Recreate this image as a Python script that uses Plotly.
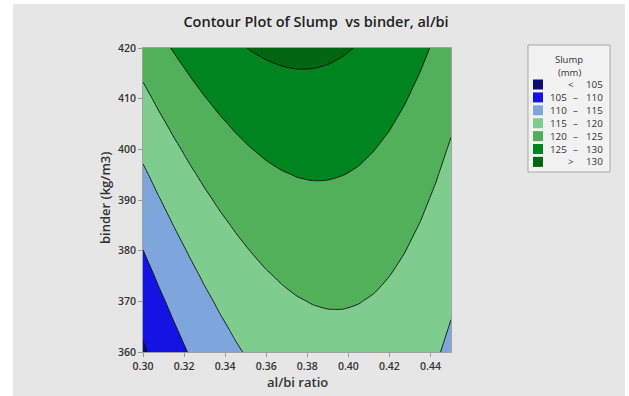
import plotly.graph_objects as go

# ---- data ----
al_bi = [0.3000, 0.3075, 0.3150, 0.3225, 0.3300, 0.3375, 0.3450, 0.3525, 0.3600, 0.3675, 0.3750,
         0.3825, 0.3900, 0.3975, 0.4050, 0.4125, 0.4200, 0.4275, 0.4350, 0.4425, 0.4500]
binder = [360, 365, 370, 375, 380, 385, 390, 395, 400, 405, 410, 415, 420]
slump = [
    [104.40, 106.51, 108.44, 110.21, 111.81, 113.24, 114.49, 115.58, 116.50, 117.24, 117.82,
     118.23, 118.46, 118.53, 118.43, 118.16, 117.71, 117.10, 116.32, 115.36, 114.24],
    [105.75, 107.82, 109.72, 111.45, 113.01, 114.40, 115.62, 116.67, 117.54, 118.25, 118.79,
     119.16, 119.36, 119.39, 119.25, 118.94, 118.46, 117.81, 116.98, 115.99, 114.83],
    [107.13, 109.16, 111.02, 112.71, 114.23, 115.58, 116.76, 117.77, 118.62, 119.29, 119.79,
     120.12, 120.28, 120.27, 120.09, 119.74, 119.22, 118.53, 117.68, 116.65, 115.45],
    [108.53, 110.52, 112.34, 113.99, 115.48, 116.79, 117.93, 118.91, 119.71, 120.34, 120.81,
     121.10, 121.22, 121.17, 120.96, 120.57, 120.01, 119.29, 118.39, 117.32, 116.09],
    [109.95, 111.90, 113.69, 115.30, 116.75, 118.02, 119.13, 120.06, 120.83, 121.42, 121.85,
     122.10, 122.19, 122.10, 121.85, 121.42, 120.83, 120.06, 119.13, 118.02, 116.75],
    [111.39, 113.31, 115.06, 116.63, 118.04, 119.28, 120.34, 121.24, 121.97, 122.53, 122.91,
     123.13, 123.18, 123.05, 122.76, 122.30, 121.66, 120.86, 119.89, 118.75, 117.43],
    [112.86, 114.74, 116.45, 117.99, 119.36, 120.56, 121.58, 122.44, 123.13, 123.65, 124.00,
     124.18, 124.19, 124.03, 123.70, 123.20, 122.52, 121.68, 120.67, 119.49, 118.14],
    [114.35, 116.19, 117.86, 119.37, 120.70, 121.86, 122.85, 123.67, 124.32, 124.80, 125.11,
     125.25, 125.22, 125.03, 124.66, 124.12, 123.41, 122.53, 121.48, 120.26, 118.87],
    [115.87, 117.67, 119.30, 120.77, 122.06, 123.18, 124.14, 124.92, 125.53, 125.97, 126.25,
     126.35, 126.28, 126.05, 125.64, 125.06, 124.32, 123.40, 122.31, 121.05, 119.63],
    [117.41, 119.17, 120.77, 122.19, 123.45, 124.53, 125.45, 126.19, 126.77, 127.17, 127.41,
     127.47, 127.37, 127.09, 126.65, 126.03, 125.25, 124.29, 123.17, 121.87, 120.41],
    [118.97, 120.69, 122.25, 123.64, 124.86, 125.90, 126.78, 127.49, 128.02, 128.39, 128.59,
     128.61, 128.47, 128.16, 127.68, 127.02, 126.20, 125.21, 124.04, 122.71, 121.21],
    [120.55, 122.24, 123.76, 125.11, 126.29, 127.30, 128.14, 128.81, 129.30, 129.63, 129.79,
     129.78, 129.60, 129.25, 128.73, 128.04, 127.18, 126.15, 124.94, 123.57, 122.03],
    [122.16, 123.81, 125.29, 126.60, 127.74, 128.72, 129.52, 130.15, 130.61, 130.90, 131.02,
     130.97, 130.75, 130.36, 129.80, 129.08, 128.18, 127.11, 125.87, 124.46, 122.88],
]
levels = [105, 110, 115, 120, 125, 130]
band_colors = ["#0b0b74", "#1313e4", "#7ea6dc", "#7fcd8e", "#52b05a", "#00841f", "#006610"]
x_ticks = [0.30, 0.32, 0.34, 0.36, 0.38, 0.40, 0.42, 0.44]
y_ticks = [360, 370, 380, 390, 400, 410, 420]

# stepwise colorscale: band k sits at fraction k/6
n = len(band_colors)
colorscale = []
for k, c in enumerate(band_colors):
    lo = max(0.0, (2 * k - 1) / (2 * (n - 1)))
    hi = min(1.0, (2 * k + 1) / (2 * (n - 1)))
    colorscale.append([lo, c])
    colorscale.append([hi, c])

FONT = "Open Sans"
fig = go.Figure()
fig.add_trace(go.Contour(
    x=al_bi, y=binder, z=slump,
    colorscale=colorscale, showscale=False,
    contours=dict(start=levels[0], end=levels[-1], size=levels[1] - levels[0],
                  coloring="fill", showlines=True),
    line=dict(color="#111111", width=0.9, smoothing=0.6),
    hoverinfo="skip",
))

W, H = 629, 396
L, R, T, B = 143, 178, 48, 44
pw, ph = W - L - R, H - T - B


def px(xp):
    return (xp - L) / pw


def py(yp):
    return (H - B - yp) / ph


shapes = [
    dict(type="rect", xref="paper", yref="paper", x0=px(13), x1=px(625), y0=py(400), y1=py(4),
         fillcolor="#e6e6e6", line=dict(width=0), layer="below"),
    dict(type="rect", xref="paper", yref="paper", x0=px(528), x1=px(610), y0=py(172), y1=py(45),
         fillcolor="#f2f2f2", line=dict(color="#a8a8a8", width=1), layer="above"),
]
annotations = [
    dict(text="al/bi ratio", x=px(297), y=py(382), xref="paper", yref="paper", showarrow=False,
         font=dict(family=FONT, size=13, color="#333333", weight=600), xanchor="center", yanchor="middle"),
    dict(text="binder (kg/m3)", x=px(105), y=py(198), xref="paper", yref="paper", showarrow=False,
         textangle=-90, font=dict(family=FONT, size=13, color="#333333", weight=600),
         xanchor="center", yanchor="middle"),
    dict(text="Slump", x=px(569), y=py(59), xref="paper", yref="paper", showarrow=False, borderpad=0,
         font=dict(family=FONT, size=9.5, color="#333333"), xanchor="center", yanchor="middle"),
    dict(text="(mm)", x=px(569), y=py(72), xref="paper", yref="paper", showarrow=False, borderpad=0,
         font=dict(family=FONT, size=9.5, color="#333333"), xanchor="center", yanchor="middle"),
]
lf = dict(family=FONT, size=9.8, color="#333333")
row0, step = 84.5, 12.9
for k, c in enumerate(band_colors):
    yc = row0 + k * step
    shapes.append(dict(type="rect", xref="paper", yref="paper", x0=px(533), x1=px(543),
                       y0=py(yc + 5), y1=py(yc - 5), fillcolor=c, line=dict(width=0), layer="above"))
    if k == 0:
        parts = [("<", 575), (str(levels[0]), 604)]
    elif k == n - 1:
        parts = [(">", 575), (str(levels[-1]), 604)]
    else:
        parts = [(str(levels[k - 1]), 568), ("–", 579), (str(levels[k]), 604)]
    for txt, xr in parts:
        annotations.append(dict(text=txt, x=px(xr), y=py(yc), xref="paper", yref="paper", borderpad=0,
                                showarrow=False, font=lf, xanchor="right", yanchor="middle"))

fig.update_layout(
    width=W, height=H,
    margin=dict(l=L, r=R, t=T, b=B, pad=0),
    paper_bgcolor="white", plot_bgcolor="#e6e6e6",
    title=dict(text="Contour Plot of Slump\u00a0 vs binder, al/bi", x=px(316), y=1 - 22 / H,
               xref="paper", yref="container", xanchor="center", yanchor="middle",
               font=dict(family=FONT, size=14.5, color="#222222", weight=600)),
    shapes=shapes, annotations=annotations, showlegend=False,
)
tick_font = dict(family=FONT, size=10.5, color="#333333", weight=600)
fig.update_xaxes(range=[0.30, 0.45], tickvals=x_ticks, ticktext=[f"{v:.2f}" for v in x_ticks],
                 ticks="outside", ticklen=4, tickcolor="#999999", showgrid=False, zeroline=False,
                 showline=True, linecolor="#a0a0a0", linewidth=1, mirror=True, tickfont=tick_font)
fig.update_yaxes(range=[360, 420], tickvals=y_ticks, ticktext=[str(v) for v in y_ticks],
                 ticks="outside", ticklen=4, tickcolor="#999999", showgrid=False, zeroline=False,
                 showline=True, linecolor="#a0a0a0", linewidth=1, mirror=True, tickfont=tick_font)

fig.write_html("out.html")
